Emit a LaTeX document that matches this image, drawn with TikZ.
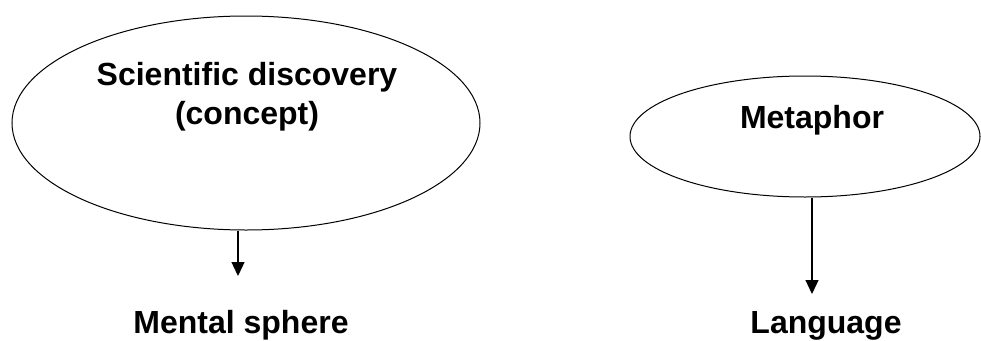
\documentclass[tikz,border=0pt]{standalone}
\usepackage{fontspec}
\setmainfont{Liberation Sans}
\usetikzlibrary{shapes.geometric,arrows.meta}
\tikzset{
  bubble/.style={draw,ellipse,inner sep=0pt,line width=1pt},
  lbl/.style={font=\fontsize{32}{39}\selectfont\bfseries,align=center,anchor=base,inner sep=0pt},
  arr/.style={line width=1.3pt,arrows={-Triangle[length=14pt,width=13pt]}}
}
\begin{document}
\begin{tikzpicture}[x=1pt,y=-1pt]
\useasboundingbox (0,0) rectangle (981,340);
\node[bubble,minimum width=468pt,minimum height=214pt] (disc) at (246,123) {};
\node[bubble,minimum width=350pt,minimum height=121pt] (meta) at (805,136.5) {};
% base anchor sits on the last line
\node[lbl] (disclbl) at (247,124) {Scientific discovery\\(concept)};
\node[lbl] (metalbl) at (812,128) {Metaphor};
\node[lbl] (mental) at (241,333) {Mental sphere};
\node[lbl] (lang) at (826,333) {Language};
\coordinate (tipA) at (238,276);
\coordinate (tipB) at (812,294);
\draw[arr] (tipA |- disc.south) -- (tipA);
\draw[arr] (tipB |- meta.south) -- (tipB);
\end{tikzpicture}
\end{document}
